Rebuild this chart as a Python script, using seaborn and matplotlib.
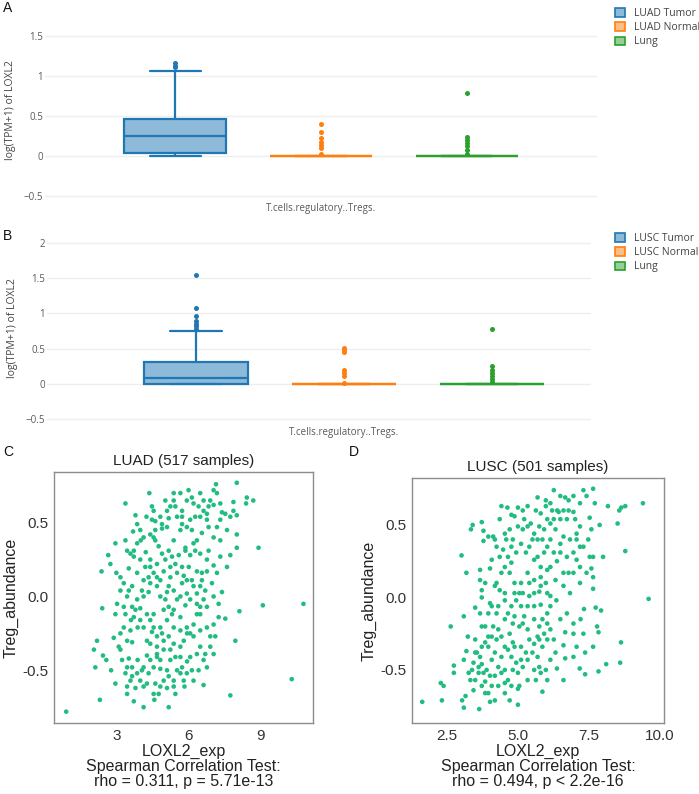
"""Recreate the LOXL2 / Treg composite figure (panels A-D)."""
import matplotlib
matplotlib.use("Agg")
import matplotlib.pyplot as plt
import matplotlib.patches as mpatches
from matplotlib.colors import to_rgba
import numpy as np
import pandas as pd
import seaborn as sns

CELL = "T.cells.regulatory..Tregs."
BOX_COLORS = ["#1f77b4", "#ff7f0e", "#2ca02c"]
DOT_COLOR = "#21bd80"

# ---- panel A : LUAD box data (log(TPM+1) of LOXL2) ----
luad_groups = ["LUAD Tumor", "LUAD Normal", "Lung"]
luad_tumor = [0, 0, 0.005, 0.01, 0.02, 0.033, 0.07, 0.12, 0.17, 0.21, 0.25,
              0.29, 0.33, 0.38, 0.42, 0.46, 0.6, 1.066, 1.11, 1.13, 1.16]
luad_normal = [0.0] * 52 + [0.025, 0.10, 0.14, 0.18, 0.22, 0.30, 0.40]
luad_lung = [0.0] * 280 + [0.03, 0.075, 0.12, 0.16, 0.20, 0.24, 0.79]

# ---- panel B : LUSC box data ----
lusc_groups = ["LUSC Tumor", "LUSC Normal", "Lung"]
lusc_tumor = [0, 0, 0, 0, 0, 0, 0, 0, 0,
              0.01, 0.02, 0.035, 0.05, 0.06, 0.07, 0.08, 0.09,
              0.11, 0.14, 0.17, 0.2, 0.23, 0.26, 0.29, 0.31,
              0.745, 0.78, 0.82, 0.85, 0.89, 0.96, 1.07, 1.54]
lusc_normal = [0.0] * 42 + [0.015, 0.11, 0.15, 0.20, 0.46, 0.48, 0.51]
lusc_lung = [0.0] * 280 + [0.03, 0.075, 0.12, 0.16, 0.20, 0.25, 0.78]

# ---- panel C : LUAD scatter (LOXL2_exp vs Treg_abundance) ----
luad_x = [0.87, 2.28, 2.16, 2.03, 2.09, 2.35, 2.38, 2.63, 2.72, 2.41, 2.55, 2.75,
          2.93, 2.93, 3.00, 2.86, 3.07, 2.97, 3.14, 2.93, 3.35, 3.42, 3.35, 3.67,
          3.77, 3.84, 3.70, 3.49, 3.28, 3.42, 3.63, 3.35, 3.58, 3.77, 3.97, 3.28,
          3.42, 3.63, 3.14, 3.49, 3.63, 3.35, 3.56, 3.77, 3.42, 3.70, 4.11, 3.42,
          3.97, 3.86, 4.04, 4.25, 4.25, 4.46, 4.39, 4.11, 4.32, 4.11, 4.32, 4.53,
          4.18, 4.39, 4.11, 4.39, 4.53, 4.60, 4.46, 4.53, 4.35, 4.81, 4.88, 4.74,
          4.88, 4.67, 4.81, 5.02, 4.95, 5.16, 5.30, 5.37, 4.81, 4.88, 4.67, 4.95,
          4.67, 4.53, 4.81, 5.09, 5.16, 4.60, 4.74, 4.56, 5.16, 5.09, 5.37, 5.44,
          5.51, 5.72, 5.92, 5.65, 5.79, 6.06, 5.92, 6.20, 6.48, 5.65, 5.86, 5.92,
          5.72, 5.92, 6.20, 6.34, 6.48, 5.72, 6.00, 5.44, 5.23, 5.37, 5.65, 5.72,
          5.92, 6.13, 6.20, 6.34, 5.72, 5.92, 6.13, 5.99, 6.20, 5.37, 5.37, 5.23,
          5.65, 6.48, 6.62, 6.76, 6.76, 6.90, 7.04, 7.18, 7.14, 7.32, 7.39, 7.53,
          7.74, 7.87, 7.87, 8.01, 8.01, 8.40, 8.70, 8.43, 8.01, 8.01, 7.74, 7.60,
          7.32, 7.18, 7.04, 6.83, 6.76, 6.55, 6.55, 6.69, 7.39, 7.25, 7.25, 7.53,
          7.04, 7.11, 6.90, 7.04, 6.69, 6.62, 6.41, 6.62, 7.74, 7.95, 8.92, 9.10,
          10.80, 10.31, 8.12, 6.48, 6.27,
          4.46, 5.09, 5.16, 5.02, 5.37, 5.65, 5.16, 4.95, 4.67, 3.97, 3.84, 3.97,
          4.23, 4.04, 3.84, 3.86, 4.11, 4.25, 4.53, 4.67, 5.16, 5.37, 5.44, 5.23,
          6.06, 6.13, 5.82, 6.20, 4.32, 4.25, 4.95, 6.48, 6.76, 6.34, 6.97, 7.18,
          7.32, 7.60, 6.48, 6.06, 5.86, 5.51, 5.09, 5.02,
          3.99, 4.20, 4.60, 4.88, 4.60, 5.16, 5.44, 5.72, 6.06, 6.41, 6.62, 6.83,
          7.04, 7.32, 6.83, 6.55, 6.27, 5.86, 5.58, 5.30, 5.23, 5.51, 5.79, 6.13,
          6.34, 6.76, 7.04, 4.39, 4.67, 3.84, 3.63, 4.39, 4.81, 5.09, 5.51, 6.06,
          6.34, 6.62, 7.04, 6.48, 3.70, 3.97, 4.53, 5.09, 5.37, 5.65, 5.93, 6.20,
          6.76, 6.90, 4.39, 4.67, 4.81, 4.39, 4.11, 4.95, 5.23, 5.65, 5.93, 6.34,
          6.48, 6.76, 5.65, 5.79, 5.37, 4.81, 4.53, 4.11, 3.84, 3.63, 3.42, 3.21,
          3.14, 3.56, 3.28, 3.49, 3.14, 3.56, 3.70]
luad_y = [-0.78, -0.70, -0.30, -0.36, -0.48, 0.17, -0.08, 0.28, 0.22, -0.40, -0.43, -0.50,
          -0.59, -0.12, -0.05, -0.28, -0.34, 0.16, 0.13, 0.36, 0.38, 0.31, 0.63, 0.44,
          0.55, 0.49, 0.27, 0.19, 0.09, 0.00, -0.07, -0.12, -0.16, -0.09, -0.08, -0.21,
          -0.30, -0.31, -0.36, -0.42, -0.48, -0.52, -0.57, -0.62, -0.66, -0.71, -0.75, -0.61,
          -0.57, -0.43, -0.50, -0.40, -0.30, -0.24, -0.16, 0.00, 0.03, 0.11, 0.13, 0.16,
          0.20, 0.25, 0.40, 0.42, 0.40, 0.45, 0.61, 0.58, 0.70, 0.54, 0.49, 0.34,
          0.29, 0.07, 0.00, -0.02, -0.09, -0.07, -0.12, -0.09, -0.21, -0.25, -0.34, -0.36,
          -0.41, -0.48, -0.49, -0.50, -0.54, -0.59, -0.66, -0.70, -0.75, -0.62, -0.57, -0.66,
          -0.50, -0.48, -0.52, -0.34, -0.30, -0.25, -0.21, -0.19, -0.23, -0.14, -0.06, 0.02,
          0.09, 0.11, 0.07, 0.02, 0.07, 0.20, 0.20, 0.22, 0.13, 0.38, 0.45, 0.49,
          0.47, 0.45, 0.36, 0.38, 0.58, 0.65, 0.67, 0.72, 0.63, 0.70, 0.65, 0.61,
          0.70, 0.70, 0.58, 0.52, 0.56, 0.65, 0.72, 0.70, 0.76, 0.63, 0.57, 0.56,
          0.54, 0.64, 0.58, 0.55, 0.77, 0.63, 0.65, 0.67, 0.42, 0.33, 0.28, 0.20,
          0.27, 0.47, 0.40, 0.31, 0.25, 0.16, 0.11, 0.04, 0.03, -0.05, -0.14, -0.15,
          -0.19, -0.27, -0.34, -0.39, -0.39, -0.43, -0.50, -0.60, -0.67, -0.30, 0.33, -0.06,
          -0.05, -0.56, -0.10, 0.54, 0.54,
          0.52, 0.47, 0.31, 0.25, 0.04, 0.00, 0.07, 0.17, 0.13, 0.25, 0.36, 0.45,
          0.54, 0.04, -0.02, -0.21, -0.21, -0.12, -0.21, -0.27, -0.27, -0.32, -0.41, -0.43,
          -0.41, -0.50, -0.61, -0.57, -0.52, -0.59, -0.57, -0.12, -0.07, -0.12, 0.09, 0.16,
          0.38, 0.45, 0.29, 0.28, 0.33, 0.54, 0.58, 0.65,
          0.38, 0.30, 0.38, 0.46, 0.51, 0.53, 0.61, 0.54, 0.52, 0.61, 0.65, 0.61,
          0.62, 0.52, 0.47, 0.43, 0.31, 0.31, 0.28, 0.27, 0.20, 0.16, 0.14, 0.11,
          0.17, 0.17, 0.21, 0.20, 0.22, 0.16, 0.07, 0.09, 0.11, 0.03, -0.02, -0.02,
          -0.05, -0.02, 0.00, -0.07, -0.14, -0.16, -0.12, -0.16, -0.21, -0.23, -0.25, -0.27,
          -0.21, -0.27, -0.32, -0.39, -0.43, -0.43, -0.48, -0.30, -0.36, -0.41, -0.44, -0.39,
          -0.34, -0.48, -0.52, -0.57, -0.61, -0.61, -0.66, -0.61, -0.52, -0.54, -0.48, -0.43,
          -0.25, -0.23, -0.07, 0.04, 0.04, 0.29, 0.31]

# ---- panel D : LUSC scatter ----
lusc_x = [1.65, 2.30, 2.40, 2.34, 2.65, 2.76, 2.76, 3.03, 3.11, 3.20, 3.11, 3.20,
          3.05, 3.11, 3.17, 3.25, 3.36, 3.42, 3.40, 3.45, 3.51, 3.57, 3.65, 3.68,
          3.68, 3.74, 3.80, 3.80, 3.74, 3.74, 3.51, 3.68, 3.86, 3.74, 3.86, 3.68,
          3.74, 3.80, 3.86, 3.74, 3.97, 4.03, 4.20, 4.09, 4.03, 4.14, 4.20, 4.37,
          4.43, 4.64, 4.55, 4.49, 4.55, 4.26, 4.20, 4.37, 4.55, 4.03, 4.09, 4.26,
          4.14, 4.32, 4.09, 4.26, 3.97, 4.20, 4.43, 4.09, 4.32, 4.55, 4.43, 4.20,
          4.32, 4.66, 4.72, 5.01, 5.01, 5.06, 4.83, 4.95, 4.78, 4.66, 4.83, 4.72,
          4.83, 4.66, 4.78, 4.95, 5.06, 4.89, 4.72, 4.78, 4.95, 4.78, 4.83, 5.12,
          5.01, 5.18, 4.89, 5.01, 5.18, 4.78, 5.35, 5.35, 5.29, 5.35, 5.41, 5.12,
          5.18, 5.35, 5.23, 5.18, 5.35, 5.41, 5.12, 5.29, 5.12, 5.70, 5.81, 5.64,
          5.87, 6.04, 5.76, 5.99, 5.87, 6.04, 5.70, 5.76, 5.87, 6.04, 5.58, 5.81,
          5.76, 5.58, 5.81, 5.99, 6.04, 5.81, 5.70, 5.93, 6.04, 6.15, 5.70, 5.58,
          5.76, 5.93, 6.04, 5.64, 5.81, 5.99, 5.70, 5.99, 6.15, 6.27, 6.50, 6.67,
          6.79, 6.96, 6.61, 6.44, 6.27, 6.50, 6.73, 6.96, 7.19, 7.31, 7.65, 7.71,
          7.42, 7.53, 7.88, 7.59, 7.48, 7.07, 7.19, 7.31, 6.96, 6.61, 6.50, 6.73,
          6.38, 6.61, 6.96, 7.19, 7.53, 7.65, 7.59, 7.65, 7.65, 8.00, 8.17, 8.51,
          8.57, 8.64, 8.78, 8.78, 9.40, 9.60, 8.63, 8.60, 8.11, 7.84, 7.79, 7.84,
          7.93, 7.74, 7.33, 7.21, 7.31, 7.37, 7.18, 7.37, 6.96, 6.67, 6.61, 6.67,
          6.61, 6.38, 6.50, 6.36, 6.15,
          3.97, 4.26, 4.37, 4.43, 4.66, 4.60, 4.72, 5.23, 5.46, 5.52, 5.41, 5.58,
          5.87, 6.15, 6.33, 6.39, 6.21, 6.79, 7.02, 7.19, 7.07, 6.84, 6.50, 6.27,
          6.15, 6.33, 6.61, 6.84, 7.19, 7.42, 7.07, 6.79, 6.04, 5.81, 5.58, 5.41,
          4.89, 4.55, 4.32, 3.97, 3.86, 3.97, 3.74, 3.51, 3.45, 3.63, 3.51, 3.34,
          3.28, 3.63, 3.91, 4.03, 4.09, 3.86, 4.55, 4.78, 4.55, 5.01, 5.18, 5.35,
          5.52, 5.58, 5.76, 5.93, 6.15, 6.27, 6.33, 6.15, 5.58, 5.35, 4.89, 4.55,
          4.43, 4.55, 4.89, 5.06, 5.12, 5.58, 6.04, 6.15, 6.73, 6.96, 7.07, 6.96,
          7.65]
lusc_y = [-0.72, -0.59, -0.61, -0.71, -0.20, -0.47, -0.52, 0.29, -0.13, 0.17, -0.43, -0.37,
          -0.71, -0.76, -0.68, -0.27, 0.47, 0.50, -0.50, -0.64, -0.29, -0.38, -0.77, 0.19,
          0.12, 0.52, 0.46, 0.39, 0.05, 0.00, -0.07, -0.11, 0.10, -0.20, -0.31, -0.41,
          -0.46, -0.52, -0.58, -0.61, -0.66, -0.72, -0.71, 0.26, 0.20, 0.42, 0.40, 0.54,
          0.63, 0.62, 0.44, 0.33, 0.21, 0.10, 0.08, 0.05, 0.03, -0.04, -0.06, -0.11,
          -0.20, -0.22, -0.27, -0.29, -0.34, -0.38, -0.41, -0.43, -0.48, -0.50, -0.52, -0.54,
          -0.61, -0.57, -0.71, -0.74, -0.63, -0.61, -0.50, -0.45, -0.41, -0.36, -0.31, -0.25,
          -0.18, -0.11, -0.06, -0.02, 0.03, 0.10, 0.17, 0.24, 0.31, 0.35, 0.40, 0.37,
          0.49, 0.47, 0.56, 0.62, 0.60, 0.57, 0.63, 0.49, 0.31, 0.17, 0.10, 0.10,
          0.03, -0.06, -0.13, -0.18, -0.22, -0.29, -0.34, -0.38, -0.43, -0.41, -0.52, -0.57,
          -0.65, -0.57, -0.48, -0.50, -0.34, -0.29, -0.27, -0.20, -0.15, -0.18, -0.06, -0.05,
          0.04, 0.12, 0.14, 0.10, 0.19, 0.21, 0.28, 0.31, 0.35, 0.40, 0.40, 0.44,
          0.49, 0.47, 0.54, 0.60, 0.58, 0.63, 0.69, 0.67, 0.65, 0.74, 0.70, 0.69,
          0.67, 0.70, 0.60, 0.59, 0.54, 0.54, 0.54, 0.59, 0.65, 0.74, 0.75, 0.65,
          0.70, 0.55, 0.50, 0.47, 0.40, 0.40, 0.35, 0.35, 0.31, 0.42, 0.37, 0.28,
          0.25, 0.17, 0.17, 0.21, 0.28, 0.28, 0.20, 0.14, 0.06, 0.28, 0.63, 0.51,
          0.60, 0.62, 0.63, 0.32, 0.65, -0.01, -0.31, -0.45, -0.46, -0.51, -0.20, -0.24,
          -0.09, -0.07, -0.08, -0.15, -0.25, -0.38, -0.49, -0.53, -0.25, -0.24, -0.33, -0.42,
          -0.57, -0.49, -0.15, -0.02, 0.01,
          0.42, 0.35, 0.28, 0.17, 0.28, 0.40, 0.47, 0.54, 0.51, 0.40, 0.35, 0.26,
          0.40, 0.51, 0.47, 0.60, 0.60, 0.60, 0.54, 0.49, 0.44, 0.40, 0.31, 0.31,
          0.21, 0.12, 0.08, 0.03, 0.10, 0.17, 0.26, 0.17, 0.03, 0.08, 0.03, 0.01,
          0.03, -0.02, -0.06, -0.11, -0.20, -0.27, -0.34, -0.38, -0.45, -0.52, -0.57, -0.57,
          -0.52, -0.48, -0.50, -0.54, -0.61, -0.66, -0.66, -0.61, -0.59, -0.52, -0.48, -0.43,
          -0.38, -0.32, -0.29, -0.25, -0.22, -0.29, -0.38, -0.43, -0.50, -0.57, -0.34, -0.34,
          -0.27, -0.15, -0.13, -0.20, -0.06, -0.15, -0.11, -0.06, -0.11, -0.18, -0.34, -0.41,
          -0.34]

BOX_TICKS = [-0.5, 0, 0.5, 1, 1.5, 2]
BOX_TICKLABELS = ["\u22120.5", "0", "0.5", "1", "1.5", "2"]


def setup_style():
    sns.set_style("white")
    plt.rcParams.update({
        "font.family": ["Liberation Sans", "DejaVu Sans"],
        "savefig.dpi": 100,
    })


def plot_box_panel(fig, rect, groups, series, ylim, xlim, ticks, legend_anchor):
    ax = fig.add_axes(rect)
    df = pd.concat([
        pd.DataFrame({"cell": CELL, "group": g, "value": v})
        for g, v in zip(groups, series)
    ])
    sns.boxplot(
        data=df, x="cell", y="value", hue="group", hue_order=groups,
        palette=BOX_COLORS, saturation=1, width=0.8, gap=0.3, linewidth=1.6,
        whis=1.5, legend=False,
        flierprops={"marker": "o", "markersize": 3.6, "markeredgewidth": 0},
        ax=ax,
    )
    # plotly-like look: each group gets its own colour for box, lines and outliers
    centers = np.array([-0.8 / 3, 0.0, 0.8 / 3])

    def group_of(xs):
        return int(np.argmin(np.abs(centers - np.mean(xs))))

    for patch in ax.patches:
        c = BOX_COLORS[group_of(patch.get_path().vertices[:, 0])]
        patch.set_facecolor(to_rgba(c, 0.5))
        patch.set_edgecolor(c)
        patch.set_linewidth(1.6)
    for line in ax.lines:
        xd = np.asarray(line.get_xdata(), dtype=float)
        if xd.size == 0:
            continue
        c = BOX_COLORS[group_of(xd)]
        line.set_color(c)
        line.set_markerfacecolor(c)
        line.set_markeredgecolor(c)
    ax.set_xlim(*xlim)
    ax.set_ylim(*ylim)
    ax.set_yticks(ticks)
    ax.set_yticklabels([BOX_TICKLABELS[BOX_TICKS.index(t)] for t in ticks],
                       fontsize=7, color="#5a5a5a", family="Open Sans")
    ax.set_xticks([0])
    ax.set_xticklabels([CELL], fontsize=7, color="#5a5a5a", family="Open Sans")
    ax.tick_params(axis="y", length=0, pad=1.5)
    ax.tick_params(axis="x", length=0, pad=2)
    ax.yaxis.grid(True, color="#eeeeee", linewidth=1)
    ax.set_axisbelow(True)
    for s in ax.spines.values():
        s.set_visible(False)
    ax.set_xlabel("")
    ax.set_ylabel("log(TPM+1) of LOXL2", fontsize=7.5, color="#444444",
                  family="Open Sans", labelpad=5)
    handles = [mpatches.Patch(facecolor=to_rgba(c, 0.5), edgecolor=c, lw=1.2, label=g)
               for g, c in zip(groups, BOX_COLORS)]
    fig.legend(handles=handles, loc="upper left", bbox_to_anchor=legend_anchor,
               frameon=False, handlelength=0.9, handleheight=0.9, handletextpad=0.9,
               labelspacing=0.3, borderaxespad=0,
               prop={"family": "Open Sans", "size": 7.5}, labelcolor="#444444")
    return ax


def plot_scatter_panel(fig, rect, x, y, title, xlabel, xlim, ylim, xticks, xticklabels):
    ax = fig.add_axes(rect)
    sns.scatterplot(x=x, y=y, color=DOT_COLOR, s=11, edgecolor="none", linewidth=0, ax=ax)
    ax.set_xlim(*xlim)
    ax.set_ylim(*ylim)
    ax.set_xticks(xticks)
    ax.set_xticklabels(xticklabels)
    ax.set_yticks([-0.5, 0.0, 0.5])
    ax.set_yticklabels(["-0.5", "0.0", "0.5"])
    ax.tick_params(labelsize=11, colors="#333333", length=3, width=0.8, pad=1,
                   labelcolor="#333333")
    for s in ax.spines.values():
        s.set_color("#8c8c8c")
        s.set_linewidth(1.0)
    ax.set_title(title, fontsize=11, color="#222222", pad=5)
    ax.set_xlabel(xlabel, fontsize=11.5, color="#222222", linespacing=1.0, labelpad=1)
    ax.set_ylabel("Treg_abundance", fontsize=11.5, color="#222222", labelpad=3)
    return ax


def main():
    setup_style()
    W, H = 699, 794
    fig = plt.figure(figsize=(W / 100, H / 100), dpi=100)

    def rect(l, t, r, b):
        return [l / W, 1 - b / H, (r - l) / W, (b - t) / H]

    plot_box_panel(fig, rect(45, 20, 597, 200), luad_groups,
                   [luad_tumor, luad_normal, luad_lung],
                   ylim=(-0.55, 1.70), xlim=(-0.505, 0.505),
                   ticks=[-0.5, 0, 0.5, 1, 1.5], legend_anchor=(611 / W, 1 - 4 / H))
    plot_box_panel(fig, rect(47, 232, 591, 424), lusc_groups,
                   [lusc_tumor, lusc_normal, lusc_lung],
                   ylim=(-0.567, 2.153), xlim=(-0.535, 0.445),
                   ticks=[-0.5, 0, 0.5, 1, 1.5, 2], legend_anchor=(611 / W, 1 - 229 / H))

    plot_scatter_panel(fig, rect(54, 472, 313, 723), luad_x, luad_y,
                       "LUAD (517 samples)",
                       "LOXL2_exp\nSpearman Correlation Test:\nrho = 0.311, p = 5.71e-13",
                       xlim=(0.36, 11.2), ylim=(-0.857, 0.843),
                       xticks=[3, 6, 9], xticklabels=["3", "6", "9"])
    plot_scatter_panel(fig, rect(412, 478, 664, 723), lusc_x, lusc_y,
                       "LUSC (501 samples)",
                       "LOXL2_exp\nSpearman Correlation Test:\nrho = 0.494, p < 2.2e-16",
                       xlim=(1.29, 10.14), ylim=(-0.866, 0.824),
                       xticks=[2.5, 5.0, 7.5, 10.0],
                       xticklabels=["2.5", "5.0", "7.5", "10.0"])

    for letter, (px, py) in {"A": (3, 8), "B": (3, 236), "C": (3, 452), "D": (349, 452)}.items():
        fig.text(px / W, 1 - py / H, letter, fontsize=10, va="center", ha="left",
                 color="#111111")

    fig.savefig("out.png", dpi=100)
    plt.close(fig)


if __name__ == "__main__":
    main()
